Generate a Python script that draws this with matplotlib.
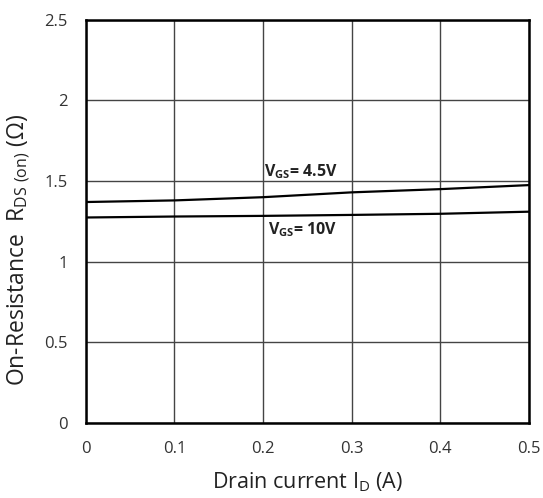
import matplotlib
matplotlib.use("Agg")
import matplotlib.pyplot as plt

plt.rcParams['font.family'] = ['Open Sans', 'DejaVu Sans']
plt.rcParams['mathtext.fontset'] = 'custom'
plt.rcParams['mathtext.rm'] = 'Open Sans'
plt.rcParams['mathtext.bf'] = 'Open Sans:bold'

current = [0.0, 0.1, 0.2, 0.3, 0.4, 0.5]
r_45v = [1.37, 1.38, 1.40, 1.43, 1.45, 1.475]
r_10v = [1.274, 1.28, 1.284, 1.29, 1.297, 1.31]
xticks = [0, 0.1, 0.2, 0.3, 0.4, 0.5]
xticklabels = ['0', '0.1', '0.2', '0.3', '0.4', '0.5']
yticks = [0, 0.5, 1, 1.5, 2, 2.5]
yticklabels = ['0', '0.5', '1', '1.5', '2', '2.5']

fig = plt.figure(figsize=(5.43, 4.98), dpi=100)
ax = fig.add_axes([0.158, 0.151, 0.816, 0.809])

ax.plot(current, r_45v, color='black', lw=1.6)
ax.plot(current, r_10v, color='black', lw=1.6)

ax.set_xlim(0, 0.5)
ax.set_ylim(0, 2.5)
ax.set_xticks(xticks)
ax.set_xticklabels(xticklabels)
ax.set_yticks(yticks)
ax.set_yticklabels(yticklabels)
ax.grid(True, color='#444444', lw=1.0)
ax.set_axisbelow(True)
for s in ax.spines.values():
    s.set_linewidth(1.8)
    s.set_color('black')
ax.tick_params(length=0, labelsize=12, pad=13, colors='#333333')

ax.text(0.243, 1.557, r'V$_{\mathbf{GS}}$= 4.5V', ha='center', va='center', fontsize=11.5, fontweight='bold', color='#222222')
ax.text(0.245, 1.197, r'V$_{\mathbf{GS}}$= 10V', ha='center', va='center', fontsize=11.5, fontweight='bold', color='#222222')

ax.set_xlabel(r'Drain current I$_{\mathrm{D}}$ (A)', fontsize=15.5, labelpad=10, color='#222222')
ax.set_ylabel(r'On-Resistance  R$_{\mathrm{DS\ (on)}}$ (Ω)', fontsize=16.5, color='#222222')
ax.yaxis.set_label_coords(-0.12, 0.43)

fig.savefig('out.png', dpi=100)
